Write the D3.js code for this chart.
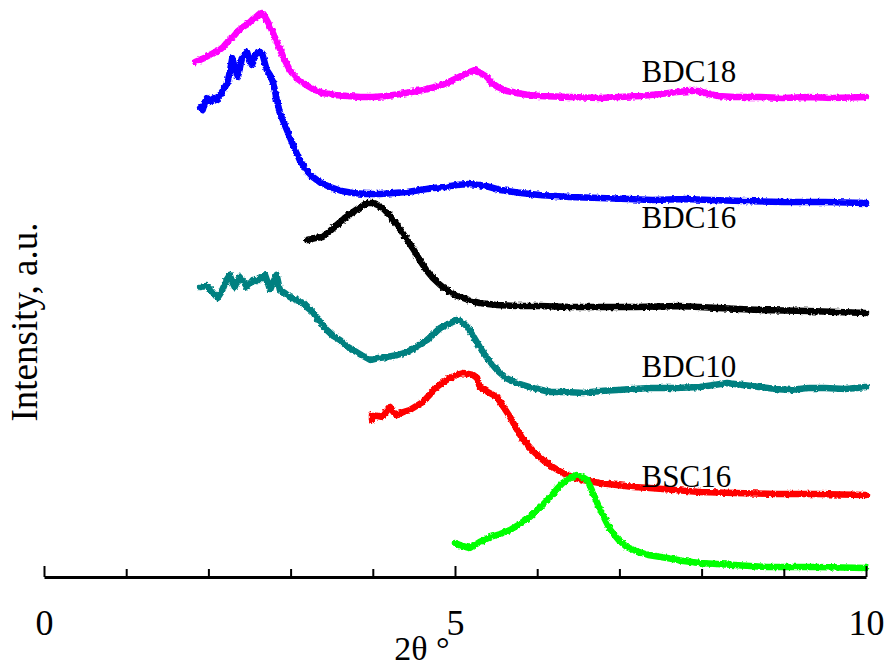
<!DOCTYPE html>
<html>
<head>
<meta charset="utf-8">
<script src="https://cdn.jsdelivr.net/npm/d3@7"></script>
<style>
  html, body { margin: 0; padding: 0; background: #fff; }
  svg { display: block; }
  text { font-family: "Liberation Serif", "Times New Roman", serif; fill: #000; }
</style>
</head>
<body>
<svg id="chart" width="889" height="668"></svg>
<script>
// XRD patterns: [2θ (deg), intensity (a.u., stacked offsets included)]
const bdc18 = [
  [1.84, 515], [1.95, 519], [2.06, 524], [2.12, 526], [2.18, 530], [2.24, 536], [2.30, 540],
  [2.36, 546], [2.42, 550], [2.48, 553], [2.53, 557], [2.58, 560], [2.62, 563], [2.65, 564],
  [2.69, 560], [2.73, 554], [2.78, 545], [2.84, 534], [2.91, 520], [2.99, 507], [3.07, 499],
  [3.15, 494], [3.27, 488], [3.39, 484], [3.54, 482], [3.69, 481], [3.85, 480], [4.00, 480],
  [4.17, 481], [4.33, 483], [4.47, 485], [4.61, 487], [4.76, 490], [4.90, 494], [5.00, 498],
  [5.10, 502], [5.18, 505], [5.24, 507], [5.31, 504], [5.39, 500], [5.45, 494], [5.52, 490],
  [5.63, 486], [5.75, 484], [5.90, 482], [6.03, 481], [6.40, 480], [6.76, 479], [7.00, 480],
  [7.25, 481], [7.50, 483], [7.70, 485], [7.85, 486], [7.95, 486], [8.05, 484], [8.20, 481],
  [8.40, 480], [8.71, 480], [9.00, 479], [9.30, 480], [9.60, 479], [10.00, 480]
];

const bdc16 = [
  [1.90, 470], [1.93, 467], [1.96, 475], [1.98, 479], [2.03, 476], [2.07, 479], [2.11, 477],
  [2.14, 482], [2.18, 487], [2.23, 494], [2.26, 505], [2.29, 519], [2.32, 510], [2.36, 500],
  [2.39, 512], [2.41, 519], [2.44, 522], [2.47, 525], [2.50, 518], [2.53, 512], [2.57, 522],
  [2.60, 524], [2.63, 525], [2.66, 522], [2.71, 507], [2.75, 502], [2.79, 494], [2.83, 478],
  [2.87, 464], [2.93, 452], [2.99, 440], [3.05, 428], [3.11, 417], [3.19, 407], [3.27, 400],
  [3.37, 394], [3.48, 390], [3.62, 386], [3.76, 384], [3.92, 383], [4.09, 383], [4.25, 384],
  [4.42, 385], [4.58, 387], [4.73, 389], [4.88, 390], [5.02, 392], [5.16, 393], [5.30, 392],
  [5.42, 390], [5.55, 387], [5.80, 384], [6.03, 382], [6.40, 380], [6.76, 379], [7.10, 378],
  [7.40, 377], [7.80, 378], [8.10, 377], [8.50, 376], [9.00, 375], [9.50, 375], [10.00, 374]
];

const traceBlack = [
  [3.20, 337], [3.30, 339], [3.39, 340], [3.48, 346], [3.56, 352], [3.66, 359], [3.76, 365],
  [3.85, 370], [3.93, 374], [4.00, 374], [4.06, 372], [4.12, 369], [4.18, 364], [4.25, 357],
  [4.33, 348], [4.42, 337], [4.50, 327], [4.57, 317], [4.65, 307], [4.73, 299], [4.82, 292],
  [4.90, 287], [5.00, 282], [5.10, 279], [5.20, 276], [5.30, 274], [5.40, 273], [5.51, 272],
  [5.75, 271], [6.03, 271], [6.40, 270], [6.76, 270], [7.20, 270], [7.74, 271], [8.20, 269],
  [8.71, 267], [9.30, 266], [10.00, 264]
];

const bdc10 = [
  [1.90, 290], [1.98, 291], [2.05, 285], [2.11, 279], [2.15, 284], [2.18, 289], [2.22, 297],
  [2.26, 302], [2.29, 295], [2.32, 290], [2.35, 296], [2.38, 300], [2.43, 295], [2.47, 290],
  [2.51, 294], [2.54, 297], [2.59, 296], [2.63, 299], [2.69, 302], [2.72, 295], [2.75, 287],
  [2.79, 295], [2.83, 302], [2.87, 287], [2.93, 284], [2.99, 280], [3.07, 277], [3.15, 274],
  [3.21, 269], [3.27, 265], [3.35, 256], [3.44, 247], [3.52, 241], [3.60, 237], [3.68, 231],
  [3.76, 227], [3.86, 222], [3.97, 217], [4.07, 219], [4.17, 220], [4.30, 222], [4.42, 225],
  [4.54, 231], [4.66, 237], [4.74, 243], [4.82, 249], [4.92, 253], [5.02, 257], [5.09, 255],
  [5.15, 250], [5.22, 241], [5.30, 230], [5.40, 218], [5.51, 207], [5.62, 199], [5.75, 194],
  [5.95, 189], [6.16, 185], [6.36, 185], [6.56, 184], [6.76, 186], [6.97, 187], [7.17, 188],
  [7.37, 189], [7.68, 189], [7.98, 190], [8.15, 192], [8.31, 194], [8.50, 192], [8.71, 190],
  [8.90, 188], [9.08, 187], [9.30, 189], [9.50, 189], [9.75, 188], [10.00, 190]
];

const bsc16 = [
  [3.99, 157], [3.99, 162], [4.06, 161], [4.12, 160], [4.17, 166], [4.21, 170], [4.25, 165],
  [4.29, 162], [4.37, 165], [4.45, 167], [4.53, 171], [4.61, 175], [4.70, 183], [4.78, 190],
  [4.86, 195], [4.94, 199], [5.02, 202], [5.10, 204], [5.16, 203], [5.22, 202], [5.27, 199],
  [5.30, 190], [5.40, 185], [5.51, 180], [5.59, 170], [5.67, 160], [5.75, 148], [5.83, 137],
  [5.95, 126], [6.07, 117], [6.19, 110], [6.31, 104], [6.43, 100], [6.56, 97], [6.76, 94],
  [6.97, 92], [7.17, 90], [7.37, 89], [7.68, 87], [7.98, 85], [8.40, 84], [8.90, 83],
  [9.40, 83], [10.00, 82]
];

const traceGreen = [
  [5.00, 34], [5.09, 31], [5.18, 29], [5.30, 35], [5.43, 40], [5.55, 43], [5.67, 47],
  [5.79, 53], [5.91, 60], [6.03, 69], [6.16, 80], [6.24, 88], [6.31, 94], [6.40, 99],
  [6.48, 102], [6.55, 100], [6.61, 97], [6.67, 86], [6.73, 74], [6.81, 60], [6.89, 47],
  [6.99, 37], [7.09, 30], [7.17, 27], [7.35, 22], [7.58, 19], [7.78, 16], [7.98, 14],
  [8.40, 12], [8.80, 10], [9.40, 10], [10.00, 9]
];

const seriesNames = ["BDC18", "BDC16", "", "BDC10", "BSC16", ""];
const seriesColors = ["#ff00ff", "#0000ff", "#000000", "#008080", "#ff0000", "#00ff00"];
const allSeries = [bdc18, bdc16, traceBlack, bdc10, bsc16, traceGreen];

const xTicks = d3.range(0, 11, 1);
const xTickLabels = { 0: "0", 5: "5", 10: "10" };

const svg = d3.select("#chart");

// slightly ragged stroke edges, like densely sampled counting data
const defs = svg.append("defs");
const rough = defs.append("filter")
  .attr("id", "rough")
  .attr("x", "-5%").attr("y", "-5%")
  .attr("width", "110%").attr("height", "110%");
rough.append("feTurbulence")
  .attr("type", "fractalNoise")
  .attr("baseFrequency", 0.35)
  .attr("numOctaves", 2)
  .attr("seed", 3)
  .attr("result", "noise");
rough.append("feDisplacementMap")
  .attr("in", "SourceGraphic")
  .attr("in2", "noise")
  .attr("scale", 3.5)
  .attr("xChannelSelector", "R")
  .attr("yChannelSelector", "G");

const x = d3.scaleLinear().domain([0, 10]).range([44, 866]);
const y = d3.scaleLinear().domain([0, 577]).range([577, 0]);

const line = d3.line()
  .x(d => x(d[0]))
  .y(d => y(d[1]));

// patterns
svg.append("g")
  .attr("filter", "url(#rough)")
  .selectAll("path")
  .data(allSeries)
  .join("path")
  .attr("d", line)
  .attr("fill", "none")
  .attr("stroke", (d, i) => seriesColors[i])
  .attr("stroke-width", 6.5)
  .attr("stroke-linejoin", "round")
  .attr("stroke-linecap", "round");

// x axis with inward ticks
const xAxis = d3.axisBottom(x)
  .tickValues(xTicks)
  .tickSizeInner(-9)
  .tickSizeOuter(0)
  .tickFormat(d => xTickLabels[d] || "");

const gx = svg.append("g")
  .attr("transform", `translate(0,${y(0)})`)
  .call(xAxis);

gx.select(".domain")
  .attr("stroke", "#000")
  .attr("stroke-width", 3);
gx.selectAll(".tick line")
  .attr("stroke", "#000")
  .attr("stroke-width", 2)
  .attr("y2", d => (d % 5 === 0 ? -11 : -8));
gx.selectAll(".tick text")
  .attr("y", 58)
  .attr("dy", 0)
  .style("font-family", "'Liberation Serif', 'Times New Roman', serif")
  .style("font-size", "36px")
  .attr("fill", "#000");

// axis titles
svg.append("text")
  .attr("x", 422)
  .attr("y", 660)
  .attr("text-anchor", "middle")
  .style("font-size", "34px")
  .text("2θ °");

svg.append("text")
  .attr("transform", "translate(37,322) rotate(-90)")
  .attr("text-anchor", "middle")
  .style("font-size", "37px")
  .text("Intensity, a.u.");

// series labels
const labelSpots = [
  { i: 0, t: 7.27, v: 495 },
  { i: 1, t: 7.27, v: 349 },
  { i: 3, t: 7.27, v: 200 },
  { i: 4, t: 7.27, v: 90 }
];
svg.append("g")
  .selectAll("text")
  .data(labelSpots)
  .join("text")
  .attr("x", d => x(d.t))
  .attr("y", d => y(d.v))
  .style("font-size", "31px")
  .text(d => seriesNames[d.i]);
</script>
</body>
</html>
